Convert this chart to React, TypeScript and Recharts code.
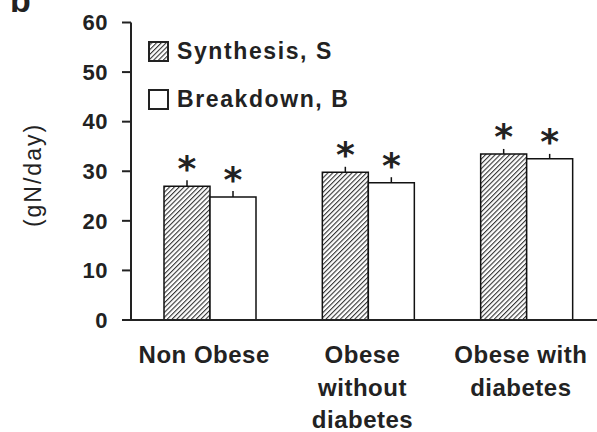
import { Bar, BarChart, ErrorBar, LabelList, Legend, XAxis, YAxis } from "recharts"

const categories = ["Non Obese", "Obese without diabetes", "Obese with diabetes"]
const tickLines = [["Non Obese"], ["Obese", "without", "diabetes"], ["Obese with", "diabetes"]]
const synthesis = [27.0, 29.8, 33.5]
const synthesisErr = [1.2, 1.1, 1.0]
const breakdown = [24.8, 27.7, 32.5]
const breakdownErr = [1.2, 1.1, 1.0]
const yTicks = [0, 10, 20, 30, 40, 50, 60]
const legendNames = ["Synthesis, S", "Breakdown, B"]

const data = categories.map((name, i) => ({
  name,
  synthesis: synthesis[i],
  synthesisErr: [0, synthesisErr[i]],
  breakdown: breakdown[i],
  breakdownErr: [0, breakdownErr[i]],
}))

const FONT = '"Liberation Sans", Arial, sans-serif'
const INK = "#222"

const HatchDef = ({ id }: { id: string }) => (
  <pattern id={id} width={3.4} height={3.4} patternUnits="userSpaceOnUse" patternTransform="rotate(45)">
    <rect width={3.4} height={3.4} fill="#fff" />
    <line x1={0} y1={0} x2={0} y2={3.4} stroke="#333" strokeWidth={2.2} />
  </pattern>
)

const XTick = (props: any) => {
  const { x, y, index } = props
  const lines = tickLines[index] || []
  return (
    <g>
      {lines.map((ln, i) => (
        <text
          key={i}
          x={x - 6}
          y={y + 35 + i * 32.5}
          textAnchor="middle"
          fontFamily={FONT}
          fontWeight={700}
          fontSize={24}
          letterSpacing={0.5}
          fill={INK}
        >
          {ln}
        </text>
      ))}
    </g>
  )
}

const Star = (props: any) => {
  const { x, y, width } = props
  return (
    <text
      x={x + width / 2}
      y={y - 5}
      textAnchor="middle"
      fontFamily='"DejaVu Sans", sans-serif'
      fontWeight={700}
      fontSize={36}
      fill={INK}
    >
      *
    </text>
  )
}

const LegendBox = () => (
  <div style={{ fontFamily: FONT, fontWeight: 700, fontSize: 23, letterSpacing: 1.6, color: INK }}>
    {legendNames.map((n, i) => (
      <div key={n} style={{ display: "flex", alignItems: "center", height: 48.5 }}>
        <svg width={21} height={21} style={{ marginRight: 8 }}>
          <defs>
            <HatchDef id="hatchLegend" />
          </defs>
          <rect x={1} y={1} width={19} height={19} fill={i === 0 ? "url(#hatchLegend)" : "#fff"} stroke={INK} strokeWidth={2} />
        </svg>
        <span>{n}</span>
      </div>
    ))}
  </div>
)

export default function App() {
  return (
    <div style={{ position: "absolute", left: 0, top: 0, width: 597, height: 432, overflow: "hidden", background: "#fff" }}>
      <svg width={60} height={20} style={{ position: "absolute", left: 0, top: 0 }}>
        <text x={10} y={12} fontFamily={FONT} fontWeight={700} fontSize={34} fill={INK}>b</text>
      </svg>
      <BarChart
        width={606}
        height={432}
        data={data}
        margin={{ top: 22.5, right: 0, left: 0, bottom: 0 }}
        barGap={0}
        barSize={46}
      >
        <defs>
          <HatchDef id="hatch" />
        </defs>
        <XAxis
          dataKey="name"
          height={112}
          tickLine={false}
          axisLine={{ stroke: INK, strokeWidth: 2 }}
          tick={<XTick />}
          interval={0}
        />
        <YAxis
          width={131}
          domain={[0, 60]}
          ticks={yTicks}
          interval={0}
          tickSize={9}
          tickMargin={14}
          axisLine={{ stroke: INK, strokeWidth: 2 }}
          tickLine={{ stroke: INK, strokeWidth: 2 }}
          tick={{ fontFamily: FONT, fontWeight: 700, fontSize: 22, fill: INK, letterSpacing: 0.5 }}
          label={{
            content: () => (
              <text
                x={33}
                y={175}
                transform="rotate(-90 33 175)"
                textAnchor="middle"
                dominantBaseline="central"
                fontFamily={FONT}
                fontSize={23}
                letterSpacing={2}
                fill={INK}
              >
                (gN/day)
              </text>
            ),
          }}
        />
        <Legend
          layout="vertical"
          align="center"
          verticalAlign="middle"
          content={<LegendBox />}
          wrapperStyle={{ position: "absolute", left: 148, top: 27, width: "auto" }}
        />
        <Bar dataKey="synthesis" fill="url(#hatch)" stroke="#111" strokeWidth={1.5} isAnimationActive={false}>
          <ErrorBar dataKey="synthesisErr" width={0} stroke="#111" strokeWidth={1.5} isAnimationActive={false} />
          <LabelList dataKey="synthesis" content={<Star />} />
        </Bar>
        <Bar dataKey="breakdown" fill="#fff" stroke="#111" strokeWidth={1.5} isAnimationActive={false}>
          <ErrorBar dataKey="breakdownErr" width={0} stroke="#111" strokeWidth={1.5} isAnimationActive={false} />
          <LabelList dataKey="breakdown" content={<Star />} />
        </Bar>
      </BarChart>
    </div>
  )
}
